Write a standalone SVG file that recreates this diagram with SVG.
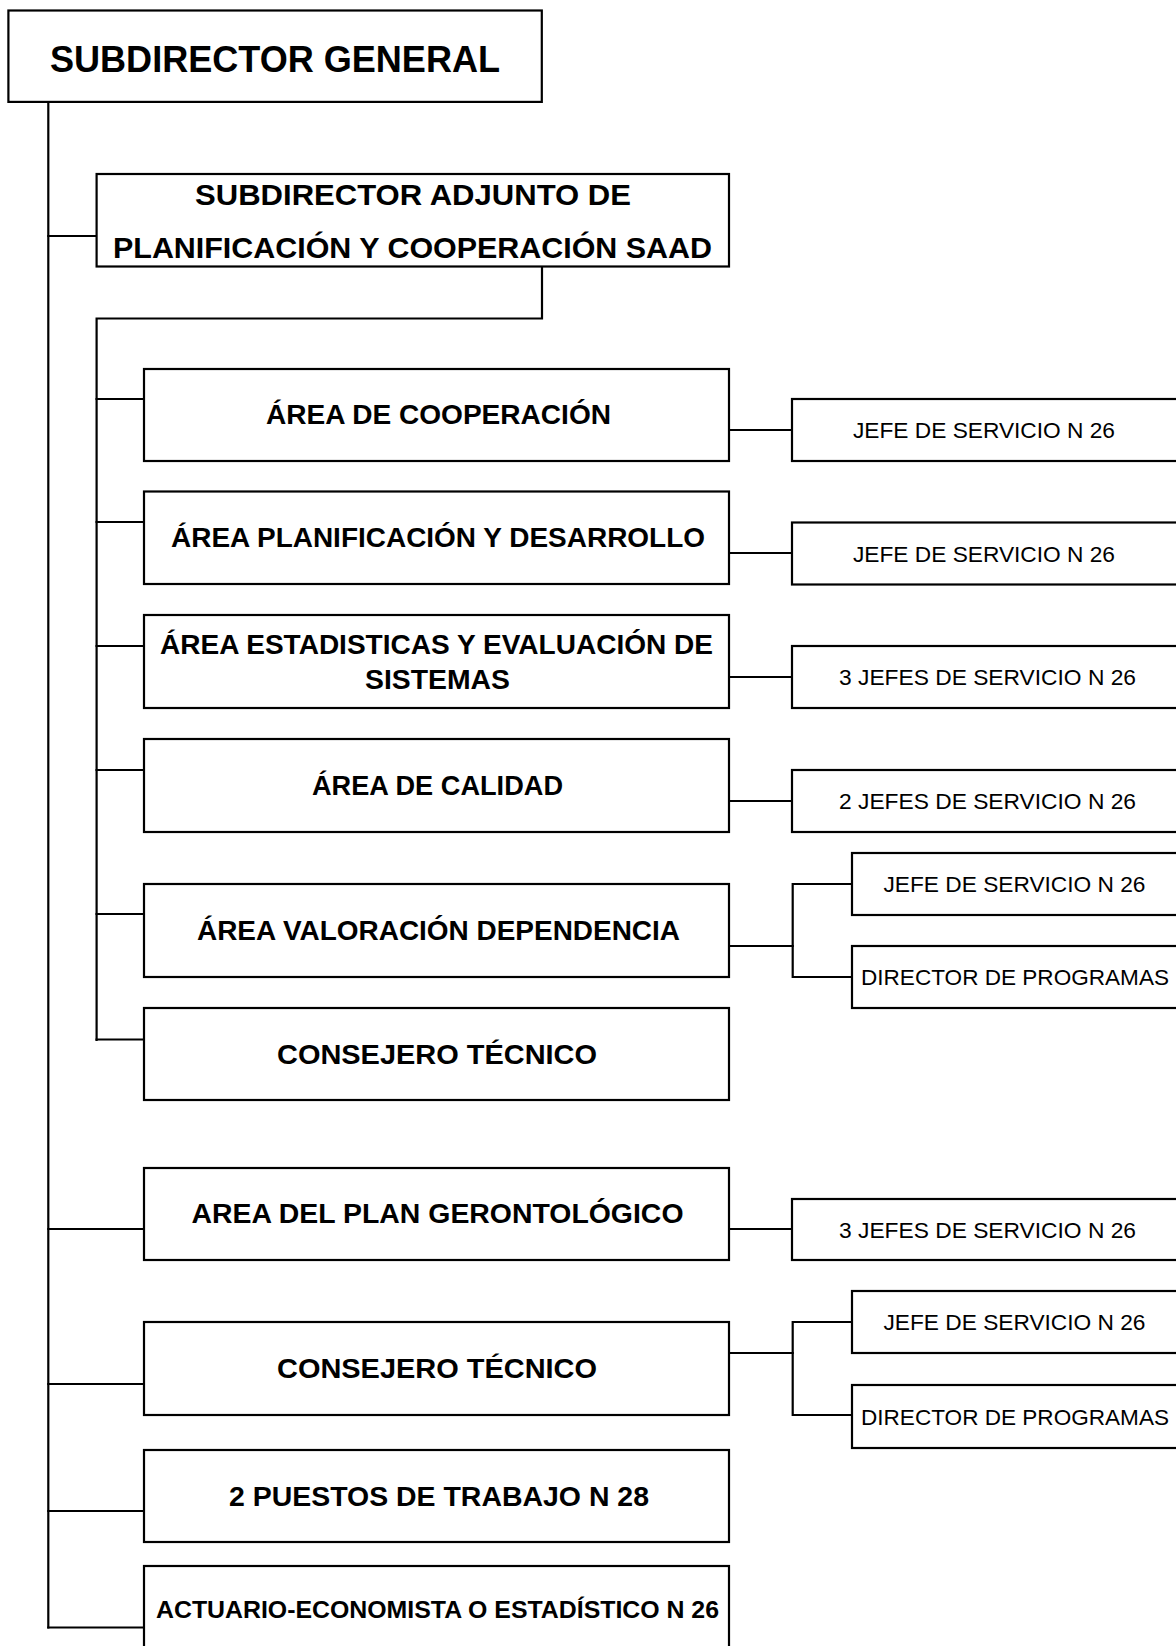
<svg xmlns="http://www.w3.org/2000/svg" width="1176" height="1646" viewBox="0 0 1176 1646">
<style>
  .box { fill: #ffffff; stroke: #000000; stroke-width: 2.2; }
  .ln { fill: none; stroke: #000000; stroke-width: 2.2; stroke-linecap: square; }
  .t { font-family: "Liberation Sans", Arial, sans-serif; fill: #000000; text-anchor: middle; }
  .b { font-weight: bold; }
  .title { font-size: 37px; }
  .adj { font-size: 30px; }
  .area { font-size: 27.5px; }
  .small { font-size: 24px; }
  .sub { font-size: 22px; }
</style>
<rect x="0" y="0" width="1176" height="1646" fill="#ffffff"/>

<g id="connectors">
  <path class="ln" d="M48.3,102 V1627.5"/>
  <path class="ln" d="M48.3,236 H96.6"/>
  <path class="ln" d="M542,266.5 V318.5 H96.6 V1040"/>
  <path class="ln" d="M96.6,399 H144"/>
  <path class="ln" d="M96.6,522 H144"/>
  <path class="ln" d="M96.6,646 H144"/>
  <path class="ln" d="M96.6,770 H144"/>
  <path class="ln" d="M96.6,914 H144"/>
  <path class="ln" d="M96.6,1039.5 H144"/>
  <path class="ln" d="M48.3,1229 H144"/>
  <path class="ln" d="M48.3,1384 H144"/>
  <path class="ln" d="M48.3,1511 H144"/>
  <path class="ln" d="M48.3,1627.5 H144"/>
  <path class="ln" d="M729,430 H792"/>
  <path class="ln" d="M729,553 H792"/>
  <path class="ln" d="M729,677 H792"/>
  <path class="ln" d="M729,801 H792"/>
  <path class="ln" d="M729,946 H792.7"/>
  <path class="ln" d="M852,884 H792.7 V977 H852"/>
  <path class="ln" d="M729,1229 H792"/>
  <path class="ln" d="M729,1353 H792.7"/>
  <path class="ln" d="M852,1322 H792.7 V1415 H852"/>
</g>

<g id="n-subdirector-general">
  <rect class="box" x="8.4" y="10.5" width="533.4" height="91.4"/>
  <text class="t b title" x="275" y="72" textLength="450" lengthAdjust="spacingAndGlyphs">SUBDIRECTOR GENERAL</text>
</g>

<g id="n-adjunto">
  <rect class="box" x="96.6" y="174" width="632.4" height="92.5"/>
  <text class="t b adj" x="413" y="205" textLength="436" lengthAdjust="spacingAndGlyphs">SUBDIRECTOR ADJUNTO DE</text>
  <text class="t b adj" x="412.5" y="258" textLength="599" lengthAdjust="spacingAndGlyphs">PLANIFICACIÓN Y COOPERACIÓN SAAD</text>
</g>

<g id="n-area-cooperacion">
  <rect class="box" x="144" y="369" width="585" height="92"/>
  <text class="t b area" x="438.5" y="424" textLength="345" lengthAdjust="spacingAndGlyphs">ÁREA DE COOPERACIÓN</text>
</g>
<g id="n-area-planificacion">
  <rect class="box" x="144" y="491.5" width="585" height="92.5"/>
  <text class="t b area" x="438" y="547" textLength="534" lengthAdjust="spacingAndGlyphs">ÁREA PLANIFICACIÓN Y DESARROLLO</text>
</g>
<g id="n-area-estadisticas">
  <rect class="box" x="144" y="615" width="585" height="93"/>
  <text class="t b area" x="436.5" y="654" textLength="553" lengthAdjust="spacingAndGlyphs">ÁREA ESTADISTICAS Y EVALUACIÓN DE</text>
  <text class="t b area" x="437.5" y="689" textLength="145" lengthAdjust="spacingAndGlyphs">SISTEMAS</text>
</g>
<g id="n-area-calidad">
  <rect class="box" x="144" y="739" width="585" height="93"/>
  <text class="t b area" x="437.5" y="795" textLength="251" lengthAdjust="spacingAndGlyphs">ÁREA DE CALIDAD</text>
</g>
<g id="n-area-valoracion">
  <rect class="box" x="144" y="884" width="585" height="93"/>
  <text class="t b area" x="438.5" y="940" textLength="483" lengthAdjust="spacingAndGlyphs">ÁREA VALORACIÓN DEPENDENCIA</text>
</g>
<g id="n-consejero-1">
  <rect class="box" x="144" y="1008" width="585" height="92"/>
  <text class="t b area" x="437" y="1064" textLength="320" lengthAdjust="spacingAndGlyphs">CONSEJERO TÉCNICO</text>
</g>
<g id="n-area-gerontologico">
  <rect class="box" x="144" y="1168" width="585" height="92"/>
  <text class="t b area" x="437.5" y="1223" textLength="492" lengthAdjust="spacingAndGlyphs">AREA DEL PLAN GERONTOLÓGICO</text>
</g>
<g id="n-consejero-2">
  <rect class="box" x="144" y="1322" width="585" height="93"/>
  <text class="t b area" x="437" y="1378" textLength="320" lengthAdjust="spacingAndGlyphs">CONSEJERO TÉCNICO</text>
</g>
<g id="n-puestos">
  <rect class="box" x="144" y="1450" width="585" height="92"/>
  <text class="t b area" x="439" y="1506" textLength="420" lengthAdjust="spacingAndGlyphs">2 PUESTOS DE TRABAJO N 28</text>
</g>
<g id="n-actuario">
  <rect class="box" x="144" y="1566" width="585" height="100"/>
  <text class="t b small" x="437.5" y="1618" textLength="563" lengthAdjust="spacingAndGlyphs">ACTUARIO-ECONOMISTA O ESTADÍSTICO N 26</text>
</g>

<g id="n-jefe-coop">
  <rect class="box" x="792" y="399" width="390" height="62"/>
  <text class="t sub" x="984" y="438" textLength="262" lengthAdjust="spacingAndGlyphs">JEFE DE SERVICIO N 26</text>
</g>
<g id="n-jefe-planif">
  <rect class="box" x="792" y="522.5" width="390" height="62"/>
  <text class="t sub" x="984" y="561.5" textLength="262" lengthAdjust="spacingAndGlyphs">JEFE DE SERVICIO N 26</text>
</g>
<g id="n-jefes-estad">
  <rect class="box" x="792" y="646" width="390" height="62"/>
  <text class="t sub" x="987.5" y="685" textLength="297" lengthAdjust="spacingAndGlyphs">3 JEFES DE SERVICIO N 26</text>
</g>
<g id="n-jefes-calidad">
  <rect class="box" x="792" y="770" width="390" height="62"/>
  <text class="t sub" x="987.5" y="809" textLength="297" lengthAdjust="spacingAndGlyphs">2 JEFES DE SERVICIO N 26</text>
</g>
<g id="n-jefe-valor">
  <rect class="box" x="852" y="853" width="330" height="62"/>
  <text class="t sub" x="1014.5" y="892" textLength="262" lengthAdjust="spacingAndGlyphs">JEFE DE SERVICIO N 26</text>
</g>
<g id="n-director-valor">
  <rect class="box" x="852" y="946" width="330" height="62"/>
  <text class="t sub" x="1015" y="985" textLength="308" lengthAdjust="spacingAndGlyphs">DIRECTOR DE PROGRAMAS</text>
</g>
<g id="n-jefes-geronto">
  <rect class="box" x="792" y="1199" width="390" height="61"/>
  <text class="t sub" x="987.5" y="1237.5" textLength="297" lengthAdjust="spacingAndGlyphs">3 JEFES DE SERVICIO N 26</text>
</g>
<g id="n-jefe-consejero">
  <rect class="box" x="852" y="1291" width="330" height="62"/>
  <text class="t sub" x="1014.5" y="1330" textLength="262" lengthAdjust="spacingAndGlyphs">JEFE DE SERVICIO N 26</text>
</g>
<g id="n-director-consejero">
  <rect class="box" x="852" y="1385" width="330" height="63"/>
  <text class="t sub" x="1015" y="1424.5" textLength="308" lengthAdjust="spacingAndGlyphs">DIRECTOR DE PROGRAMAS</text>
</g>
</svg>
